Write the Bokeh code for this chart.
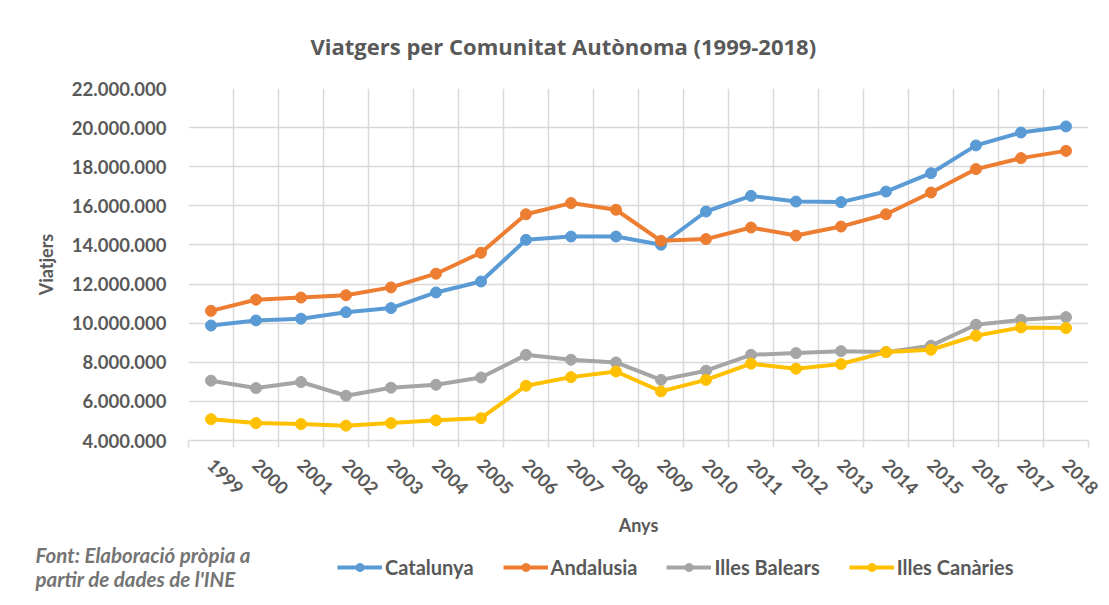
from bokeh.plotting import figure
from bokeh.models import FixedTicker, Legend, LegendItem, Label
from bokeh.layouts import column
from bokeh.embed import file_html
from bokeh.resources import INLINE

years = list(range(1999, 2019))
catalunya = [9.88, 10.14, 10.23, 10.56, 10.77, 11.57, 12.13, 14.26, 14.43, 14.43,
             14.01, 15.71, 16.51, 16.22, 16.19, 16.73, 17.67, 19.09, 19.75, 20.06]
andalusia = [10.63, 11.20, 11.31, 11.43, 11.83, 12.53, 13.60, 15.57, 16.14, 15.80,
             14.21, 14.30, 14.89, 14.48, 14.94, 15.57, 16.68, 17.88, 18.44, 18.81]
balears = [7.06, 6.68, 6.99, 6.29, 6.70, 6.85, 7.22, 8.38, 8.13, 7.99,
           7.10, 7.57, 8.38, 8.47, 8.57, 8.52, 8.85, 9.92, 10.17, 10.31]
canaries = [5.09, 4.89, 4.84, 4.76, 4.89, 5.03, 5.14, 6.80, 7.24, 7.53,
            6.51, 7.10, 7.93, 7.67, 7.91, 8.52, 8.64, 9.36, 9.78, 9.75]
series_names = ["Catalunya", "Andalusia", "Illes Balears", "Illes Canàries"]
series_colors = ["#5b9bd5", "#ed7d31", "#a5a5a5", "#ffc000"]
y_ticks = [4, 6, 8, 10, 12, 14, 16, 18, 20, 22]
y_tick_labels = ["4.000.000", "6.000.000", "8.000.000", "10.000.000", "12.000.000",
                 "14.000.000", "16.000.000", "18.000.000", "20.000.000", "22.000.000"]
title_text = "Viatgers per Comunitat Autònoma (1999-2018)"
note_lines = ["Font: Elaboració pròpia a", "partir de dades de l'INE"]

MIL = 1_000_000
FONT = "Lato"
TXT = "#595959"
GRID = "#d9d9d9"
all_series = [catalunya, andalusia, balears, canaries]

p = figure(frame_width=900, frame_height=352, width=1109, height=540,
           min_border_left=188, min_border_right=21, min_border_top=87, min_border_bottom=101,
           x_range=(years[0] - 0.5, years[-1] + 0.5), y_range=(y_ticks[0] * MIL, y_ticks[-1] * MIL),
           output_backend="svg", toolbar_location=None)
p.frame_align = False
p.outline_line_color = None
p.background_fill_color = "white"
p.border_fill_color = "white"

# title
p.title.text = title_text
p.title.align = "left"
p.title.offset = 122
p.title.standoff = 56
p.title.text_font = "Open Sans"
p.title.text_font_style = "bold"
p.title.text_font_size = "22px"
p.title.text_color = TXT

boundaries = [y - 0.5 for y in years] + [years[-1] + 0.5]

# x axis
p.xaxis.ticker = FixedTicker(ticks=years, minor_ticks=boundaries)
p.xaxis.major_tick_out = 0
p.xaxis.major_tick_in = 0
p.xaxis.minor_tick_out = 7
p.xaxis.minor_tick_in = 0
p.xaxis.minor_tick_line_color = GRID
p.xaxis.minor_tick_line_width = 1.5
p.xaxis.axis_line_color = GRID
p.xaxis.axis_line_width = 1.5
p.xaxis.major_label_orientation = -0.785398
p.xaxis.major_label_text_font = FONT
p.xaxis.major_label_text_font_style = "bold"
p.xaxis.major_label_text_font_size = "18px"
p.xaxis.major_label_text_color = TXT
p.xaxis.major_label_standoff = 14
p.xaxis.axis_label = "Anys"
p.xaxis.axis_label_text_font = FONT
p.xaxis.axis_label_text_font_style = "bold"
p.xaxis.axis_label_text_font_size = "18px"
p.xaxis.axis_label_text_color = TXT
p.xaxis.axis_label_standoff = 10

# y axis
p.yaxis.ticker = FixedTicker(ticks=[t * MIL for t in y_ticks])
p.yaxis.major_label_overrides = {t * MIL: l for t, l in zip(y_ticks, y_tick_labels)}
p.yaxis.major_tick_out = 0
p.yaxis.major_tick_in = 0
p.yaxis.minor_tick_line_color = None
p.yaxis.axis_line_color = None
p.yaxis.major_label_text_font = FONT
p.yaxis.major_label_text_font_style = "bold"
p.yaxis.major_label_text_font_size = "18.5px"
p.yaxis.major_label_text_color = TXT
p.yaxis.major_label_standoff = 22
p.yaxis.axis_label = "Viatjers"
p.yaxis.axis_label_text_font = FONT
p.yaxis.axis_label_text_font_style = "bold"
p.yaxis.axis_label_text_font_size = "18px"
p.yaxis.axis_label_text_color = TXT
p.yaxis.axis_label_standoff = 12

# grids
p.xgrid.ticker = FixedTicker(ticks=boundaries)
p.xgrid.grid_line_color = GRID
p.xgrid.grid_line_width = 1.5
p.ygrid.grid_line_color = GRID
p.ygrid.grid_line_width = 1.5

for vals, col in zip(all_series, series_colors):
    yv = [v * MIL for v in vals]
    p.line(years, yv, line_color=col, line_width=4, line_join="round")
    p.scatter(years, yv, size=11, fill_color=col, line_color=col)

# bottom strip: legend and source note (page-pixel data space, y grows downward)
p2 = figure(frame_width=1109, frame_height=65, width=1109, height=65,
            min_border_left=0, min_border_right=0, min_border_top=0, min_border_bottom=0,
            x_range=(0, 1109), y_range=(605, 540), x_axis_type=None, y_axis_type=None,
            output_backend="svg", toolbar_location=None)
p2.frame_align = False
p2.outline_line_color = None
p2.xgrid.visible = False
p2.ygrid.visible = False
p2.background_fill_color = "white"
p2.border_fill_color = "white"

# legend renderers carry the series (they fall outside this strip's ranges, so only
# their legend glyphs show)
items = []
for name, vals, col in zip(series_names, all_series, series_colors):
    yv = [v * MIL for v in vals]
    r1 = p2.line(years, yv, line_color=col, line_width=4)
    r2 = p2.scatter(years, yv, size=8, fill_color=col, line_color=col)
    items.append(LegendItem(label=name, renderers=[r1, r2]))

legend = Legend(items=items, orientation="horizontal", location=(337, 27),
                label_text_font=FONT, label_text_font_style="bold",
                label_text_font_size="20px", label_text_color=TXT,
                glyph_width=45, glyph_height=20, label_height=20, label_standoff=3,
                spacing=29, padding=0, margin=0,
                border_line_color=None, background_fill_alpha=0)
p2.add_layout(legend)

for txt, yy in zip(note_lines, [553, 577]):
    p2.add_layout(Label(x=35, y=yy, text=txt, text_align="left", text_baseline="middle",
                        text_font=FONT, text_font_style="bold italic",
                        text_font_size="20.5px", text_color="#747474"))

layout = column(p, p2, spacing=0)
open("out.html", "w").write(file_html(layout, INLINE))
